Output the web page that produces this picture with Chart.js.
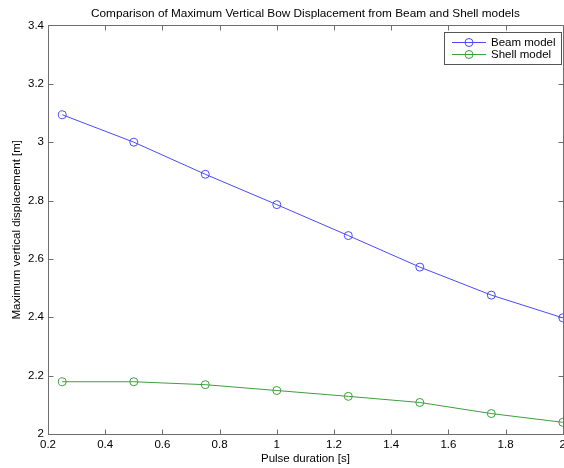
<!DOCTYPE html>
<html>
<head>
<meta charset="utf-8">
<script src="https://cdn.jsdelivr.net/npm/chart.js@4.4.1/dist/chart.umd.min.js"></script>
<style>
  html, body { margin: 0; padding: 0; background: #fff; overflow: hidden; }
  #wrap { width: 570px; height: 468px; }
</style>
</head>
<body>
<div id="wrap"><canvas id="c" width="570" height="468"></canvas></div>
<script>
// ---- data ----
const pulseDurations = [0.25, 0.5, 0.75, 1.0, 1.25, 1.5, 1.75, 2.0];
const beamValues  = [3.094, 3.000, 2.890, 2.786, 2.680, 2.572, 2.476, 2.398];
const shellValues = [2.179, 2.179, 2.169, 2.149, 2.129, 2.108, 2.070, 2.040];
const seriesLabels = ['Beam model', 'Shell model'];
const xTicks = [0.2, 0.4, 0.6, 0.8, 1, 1.2, 1.4, 1.6, 1.8, 2];
const yTicks = [2, 2.2, 2.4, 2.6, 2.8, 3, 3.2, 3.4];
const chartTitle = 'Comparison of Maximum Vertical Bow Displacement from Beam and Shell models';
const xTitle = 'Pulse duration [s]';
const yTitle = 'Maximum vertical displacement [m]';

const FONT = "'Liberation Sans', Arial, Helvetica, sans-serif";
const FS = 11.5;
const AXIS_COLOR = '#6e6e6e';
const colors = ['#4a4aff', '#3c9f3c'];

const toPts = (xs, ys) => xs.map((x, i) => ({ x: x, y: ys[i] }));

const boxAndTicks = {
  id: 'boxAndTicks',
  afterDraw(chart) {
    const { ctx, chartArea: a, scales } = chart;
    const L = Math.round(a.left) + 0.5, R = Math.round(a.right) + 0.5;
    const T = Math.round(a.top) + 0.5, B = Math.round(a.bottom) + 0.5;
    const tl = 5;
    ctx.save();
    ctx.strokeStyle = AXIS_COLOR;
    ctx.lineWidth = 1;
    ctx.beginPath();
    ctx.rect(L, T, R - L, B - T);
    xTicks.forEach(v => {
      const px = Math.round(scales.x.getPixelForValue(v)) + 0.5;
      ctx.moveTo(px, B); ctx.lineTo(px, B - tl);
      ctx.moveTo(px, T); ctx.lineTo(px, T + tl);
    });
    yTicks.forEach(v => {
      const py = Math.round(scales.y.getPixelForValue(v)) + 0.5;
      ctx.moveTo(L, py); ctx.lineTo(L + tl, py);
      ctx.moveTo(R, py); ctx.lineTo(R - tl, py);
    });
    ctx.stroke();

    // legend
    const lx0 = 444.5, ly0 = 32.5, lx1 = 561.5, ly1 = 64.5;
    ctx.fillStyle = '#fff';
    ctx.fillRect(lx0, ly0, lx1 - lx0, ly1 - ly0);
    ctx.strokeStyle = '#555';
    ctx.strokeRect(lx0, ly0, lx1 - lx0, ly1 - ly0);
    const rows = [42.5, 54.5];
    chart.data.datasets.forEach((ds, i) => {
      const y = rows[i];
      ctx.strokeStyle = ds.borderColor;
      ctx.lineWidth = 1;
      ctx.beginPath();
      ctx.moveTo(452, y); ctx.lineTo(486, y);
      ctx.stroke();
      ctx.beginPath();
      ctx.arc(469, y, 4, 0, Math.PI * 2);
      ctx.stroke();
      ctx.fillStyle = '#000';
      ctx.font = FS + 'px ' + FONT;
      ctx.textBaseline = 'middle';
      ctx.textAlign = 'left';
      ctx.fillText(ds.label, 491, y + 0.5);
    });
    ctx.restore();
  }
};

new Chart(document.getElementById('c'), {
  type: 'line',
  data: {
    datasets: [
      { label: seriesLabels[0], data: toPts(pulseDurations, beamValues) },
      { label: seriesLabels[1], data: toPts(pulseDurations, shellValues) }
    ].map((d, i) => Object.assign(d, {
      borderColor: colors[i],
      borderWidth: 1,
      pointStyle: 'circle',
      pointRadius: 4,
      pointHoverRadius: 4,
      pointBorderWidth: 1,
      pointBorderColor: colors[i],
      pointBackgroundColor: 'rgba(0,0,0,0)',
      tension: 0,
      fill: false,
      clip: false
    }))
  },
  options: {
    responsive: false,
    animation: false,
    devicePixelRatio: 1,
    layout: { padding: { left: 0, right: 5, top: 0, bottom: 0 } },
    plugins: {
      legend: { display: false },
      tooltip: { enabled: false },
      title: {
        display: true,
        text: chartTitle,
        fullSize: false,
        color: '#000',
        font: { family: FONT, size: 11.8, weight: 'normal', lineHeight: 1.2 },
        padding: { top: 7, bottom: 4.3 }
      }
    },
    scales: {
      x: {
        type: 'linear',
        min: 0.2, max: 2,
        afterFit: s => { s.height = 34; },
        afterBuildTicks: s => { s.ticks = xTicks.map(v => ({ value: v })); },
        grid: { display: false, drawTicks: false },
        border: { display: false },
        ticks: {
          color: '#000', padding: 4, maxRotation: 0, autoSkip: false,
          font: { family: FONT, size: FS },
          callback: v => String(parseFloat(Number(v).toFixed(2)))
        },
        title: {
          display: true, text: xTitle, color: '#000',
          font: { family: FONT, size: FS, lineHeight: 1.2 },
          padding: { top: 0, bottom: 1.8 }
        }
      },
      y: {
        type: 'linear',
        min: 2, max: 3.4,
        afterFit: s => { s.width = 48; },
        afterBuildTicks: s => { s.ticks = yTicks.map(v => ({ value: v })); },
        grid: { display: false, drawTicks: false },
        border: { display: false },
        ticks: {
          color: '#000', padding: 4, autoSkip: false,
          font: { family: FONT, size: FS },
          callback: v => String(parseFloat(Number(v).toFixed(2)))
        },
        title: {
          display: true, text: yTitle, color: '#000',
          font: { family: FONT, size: FS, lineHeight: 1.2 },
          padding: { top: 10.1, bottom: 0 }
        }
      }
    }
  },
  plugins: [boxAndTicks]
});
</script>
</body>
</html>
